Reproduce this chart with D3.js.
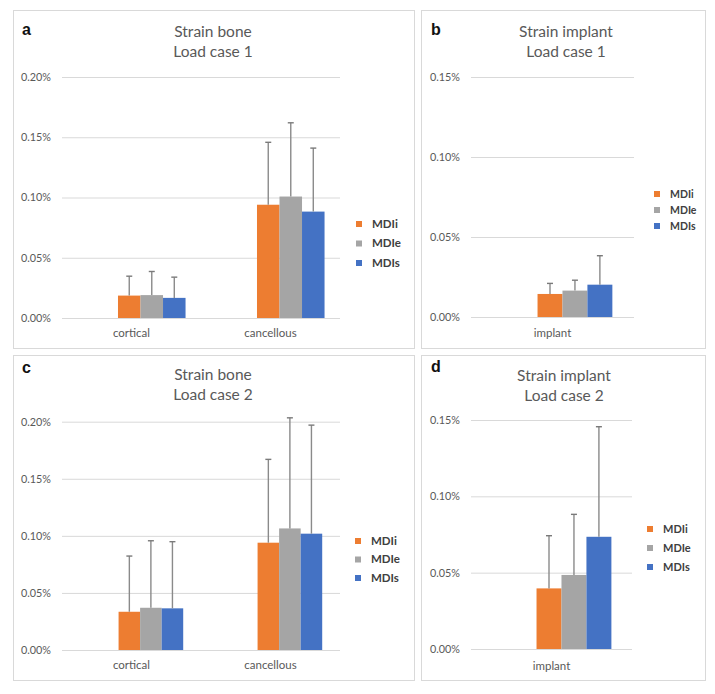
<!DOCTYPE html>
<html><head><meta charset="utf-8">
<script src="https://cdn.jsdelivr.net/npm/d3@7"></script>
<style>body{margin:0;background:#fff}svg{display:block}</style>
</head><body>
<svg id="chart" width="715" height="694"></svg>
<script>
// ---- data (values in %) ----
const series = ["MDIi", "MDIe", "MDIs"];
const colors = ["#ED7D31", "#A5A5A5", "#4472C4"];
const boneCategories = ["cortical", "cancellous"];
const implantCategories = ["implant"];
const boneTicks = [0, 0.05, 0.10, 0.15, 0.20];
const implantTicks = [0, 0.05, 0.10, 0.15];

// mean and SD per category (rows) per series (columns)
const boneLC1Mean = [[0.0186, 0.0190, 0.0167], [0.0940, 0.1008, 0.0883]];
const boneLC1SD   = [[0.0161, 0.0196, 0.0172], [0.0518, 0.0612, 0.0527]];
const implLC1Mean = [[0.0144, 0.0165, 0.0202]];
const implLC1SD   = [[0.0066, 0.0065, 0.0181]];
const boneLC2Mean = [[0.0335, 0.0370, 0.0365], [0.0940, 0.1065, 0.1019]];
const boneLC2SD   = [[0.0488, 0.0587, 0.0584], [0.0730, 0.0969, 0.0951]];
const implLC2Mean = [[0.0397, 0.0485, 0.0735]];
const implLC2SD   = [[0.0345, 0.0397, 0.0721]];

const panels = [
  {letter:"a", title:["Strain bone","Load case 1"], cats:boneCategories, mean:boneLC1Mean, sd:boneLC1SD, ticks:boneTicks,
   box:[13,10,414,348], px:[62,340], py:[318,77], titleX:213, titleY:[36.5,57], letterPos:[22,35],
   leg:[359,224,19.5], legFont:11.5, catY:337, bw:0.162},
  {letter:"b", title:["Strain implant","Load case 1"], cats:implantCategories, mean:implLC1Mean, sd:implLC1SD, ticks:implantTicks,
   box:[421,10,705,348], px:[471,634], py:[317,77], titleX:566, titleY:[36.5,57], letterPos:[431,35],
   leg:[657,194,16], legFont:10.5, catY:337, bw:0.153},
  {letter:"c", title:["Strain bone","Load case 2"], cats:boneCategories, mean:boneLC2Mean, sd:boneLC2SD, ticks:boneTicks,
   box:[13,355,414,680], px:[62,340], py:[650,421.7], titleX:213, titleY:[380,400], letterPos:[22,373],
   leg:[358,541,18.5], legFont:11.5, catY:669, bw:0.155},
  {letter:"d", title:["Strain implant","Load case 2"], cats:implantCategories, mean:implLC2Mean, sd:implLC2SD, ticks:implantTicks,
   box:[421,355,705,680], px:[471,632], py:[649,420], titleX:564, titleY:[381,401], letterPos:[431,372],
   leg:[650,529,19], legFont:11, catY:670, bw:0.155}
];

const svg = d3.select("#chart");
const fmt = v => d3.format(".2f")(v) + "%";
const FONT = "Lato, 'Open Sans', sans-serif";

panels.forEach(p => {
  const g = svg.append("g");
  // frame
  g.append("rect").attr("x", p.box[0] + 0.5).attr("y", p.box[1] + 0.5)
    .attr("width", p.box[2] - p.box[0]).attr("height", p.box[3] - p.box[1])
    .attr("fill", "#fff").attr("stroke", "#d9d9d9").attr("stroke-width", 1);

  const y = d3.scaleLinear().domain([0, d3.max(p.ticks)]).range(p.py);
  const x0 = d3.scaleBand().domain(p.cats).range(p.px).padding(0);

  // gridlines + tick labels via axis
  const axis = d3.axisLeft(y).tickValues(p.ticks).tickFormat(fmt)
    .tickSize(-(p.px[1] - p.px[0])).tickPadding(11);
  const ax = g.append("g").attr("transform", `translate(${p.px[0]},0)`).call(axis);
  ax.select(".domain").remove();
  ax.selectAll(".tick line").attr("stroke", "#d9d9d9").attr("stroke-width", 1);
  ax.selectAll(".tick text").attr("fill", "#595959").attr("font-family", FONT)
    .attr("font-size", 10.8);

  // bars
  p.cats.forEach((c, ci) => {
    const w = x0.bandwidth() * p.bw;
    const center = x0(c) + x0.bandwidth() / 2;
    const x1 = d3.scaleBand().domain(series).range([center - 0.6 * w, center + 2.4 * w]).padding(0);
    series.forEach((s, si) => {
      const m = p.mean[ci][si], sd = p.sd[ci][si];
      g.append("rect").attr("x", x1(s)).attr("width", x1.bandwidth())
        .attr("y", y(m)).attr("height", y(0) - y(m)).attr("fill", colors[si]);
      const cx = x1(s) + x1.bandwidth() / 2;
      g.append("line").attr("x1", cx).attr("x2", cx).attr("y1", y(m)).attr("y2", y(m + sd))
        .attr("stroke", "#8a8a8a").attr("stroke-width", 1.4);
      g.append("line").attr("x1", cx - 3).attr("x2", cx + 3).attr("y1", y(m + sd)).attr("y2", y(m + sd))
        .attr("stroke", "#7a7a7a").attr("stroke-width", 1.4);
    });
    g.append("text").attr("x", center).attr("y", p.catY).attr("text-anchor", "middle")
      .attr("fill", "#595959").attr("font-family", FONT).attr("font-size", 11.5)
      .text(c);
  });

  // title
  p.title.forEach((t, i) => {
    g.append("text").attr("x", p.titleX).attr("y", p.titleY[i]).attr("text-anchor", "middle")
      .attr("fill", "#595959").attr("font-family", FONT).attr("font-size", 15.5)
      .text(t);
  });
  // panel letter
  g.append("text").attr("x", p.letterPos[0]).attr("y", p.letterPos[1])
    .attr("font-family", "'Liberation Sans', Arial, sans-serif").attr("font-weight", "bold")
    .attr("font-size", 16).attr("fill", "#111").text(p.letter);

  // legend
  series.forEach((s, si) => {
    const ly = p.leg[1] + si * p.leg[2];
    g.append("rect").attr("x", p.leg[0] - 3).attr("y", ly - 3).attr("width", 6).attr("height", 6).attr("fill", colors[si]);
    g.append("text").attr("x", p.leg[0] + 13).attr("y", ly + 3.9)
      .attr("font-family", FONT).attr("font-weight", "bold")
      .attr("font-size", p.legFont).attr("fill", "#404040").text(s);
  });
});
</script>
</body></html>
